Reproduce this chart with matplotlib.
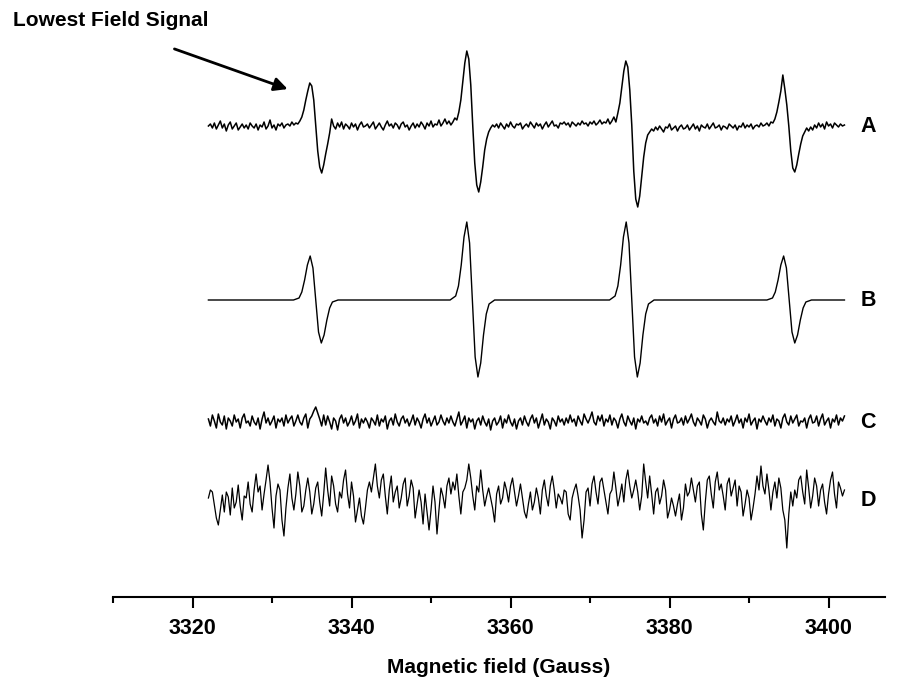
import numpy as np
import matplotlib
matplotlib.use('Agg')
import matplotlib.pyplot as plt

plt.rcParams['font.family'] = ['Liberation Sans', 'DejaVu Sans']
plt.rcParams['font.weight'] = 'bold'

# magnetic field sampling (Gauss): 3322 .. 3402 in 0.25 G steps
field_start = 3322.0
field_step = 0.25

# trace A: experimental spectrum (signal height, arbitrary units)
spec_A = [
    1, 3, -1, 4, -2, 2, 6, -1, 3, -4, 2, 5, -2, 1, 4, -3, 0, 3, -1, 2,
    -2, 4, 1, -1, 3, -3, 2, 0, 5, -2, 1, 7, -1, 2, -3, 3, 1, 4, -1, 2,
    3, 1, 5, 2, 4, 3, 6, 10, 17, 27, 36, 44, 41, 27, 2, -24, -40, -46, -38, -27,
    -17, -6, 8, 1, -2, 4, 0, 5, -2, 3, 1, -2, 4, 0, 3, -3, 2, 5, 0, 1,
    3, -1, 2, 5, -2, 1, 4, 0, -3, 2, 6, 1, 3, -1, 4, 2, -2, 3, 5, 0,
    2, -3, 1, 4, -1, 3, 0, 5, 2, -2, 4, 1, 6, 0, 3, 2, 7, 1, 4, 8,
    3, 6, 2, 5, 9, 7, 15, 27, 46, 64, 76, 68, 42, 1, -36, -58, -65, -55, -40, -23,
    -12, -5, -1, 2, 0, 3, -1, 4, 1, -2, 3, 0, 5, 1, -1, 3, 2, 4, -2, 1,
    3, 0, 5, 2, -1, 4, 1, 3, -2, 2, 5, 0, 3, 6, 1, 2, -1, 4, 3, 5,
    2, 4, 0, 5, 3, 1, 4, 2, 6, 3, 4, 1, 5, 3, 6, 2, 4, 7, 3, 5,
    4, 8, 3, 6, 10, 5, 14, 24, 40, 56, 66, 60, 37, 2, -44, -72, -80, -69, -50, -30,
    -16, -8, -5, -2, -4, 0, -3, 1, -2, -5, 0, -1, 3, -3, -1, 1, -4, 0, 2, -2,
    -1, 2, -3, 0, 3, -2, 1, -4, 2, 0, -1, 3, -2, 1, 4, -1, 0, 2, -3, 1,
    0, -2, 3, 1, -1, 2, -3, 1, 0, 4, -1, 2, 0, 3, -2, 1, 2, 0, 4, 1,
    2, 4, 1, 5, 4, 8, 15, 25, 36, 52, 38, 22, 1, -24, -41, -45, -38, -27, -17, -9,
    -5, -1, -4, 0, -3, 2, -1, 4, 0, 3, -2, 5, 1, 3, -1, 4, 2, 0, 3, 1,
    2,
]

# trace B: simulated spectrum (field, height)
field_B = [
    3322.0,
    3332.7, 3333.4, 3333.75, 3334.1, 3334.45, 3334.8, 3335.15, 3335.5,
    3335.85, 3336.2, 3336.55, 3336.9, 3337.25, 3337.6, 3338.3,
    3352.4, 3353.1, 3353.45, 3353.8, 3354.15, 3354.5, 3354.85, 3355.2,
    3355.55, 3355.9, 3356.25, 3356.6, 3356.95, 3357.3, 3358.0,
    3372.45, 3373.15, 3373.5, 3373.85, 3374.2, 3374.55, 3374.9, 3375.25,
    3375.6, 3375.95, 3376.3, 3376.65, 3377.0, 3377.35, 3378.05,
    3392.25, 3392.95, 3393.3, 3393.65, 3394.0, 3394.35, 3394.7, 3395.05,
    3395.4, 3395.75, 3396.1, 3396.45, 3396.8, 3397.15, 3397.85,
    3402.0,
]
spec_B = [
    0,
    0, 2, 8, 20, 35, 44, 32, 0, -32, -43, -35, -20, -8, -2, 0,
    0, 4, 14, 35, 63, 78, 57, 0, -57, -77, -63, -35, -14, -4, 0,
    0, 4, 14, 35, 63, 78, 57, 0, -57, -77, -63, -35, -14, -4, 0,
    0, 2, 8, 20, 35, 44, 32, 0, -32, -43, -35, -20, -8, -2, 0,
    0,
]

# trace C: residual A - B
spec_C = [
    3, -4, 7, 1, -6, 8, 0, -3, 6, -7, 4, 1, -4, 7, 0, 3, -6, 4, 8, -1,
    1, -4, 6, 0, -3, 4, -7, 3, 10, -1, 4, -3, 1, 6, -6, 3, 0, 4, -4, 7,
    -1, 3, 6, -4, 1, 7, 0, -3, 4, 8, -6, 3, 6, 11, 15, 9, 3, -4, 7, -3,
    6, 0, -7, 4, 1, -8, 3, 7, -1, 4, -4, 0, 6, -3, 1, 8, -6, 3, -1, 4,
    0, -6, 4, 1, -3, 7, -4, 3, 0, 6, -7, 1, 4, -3, 8, 0, -4, 3, 6, -1,
    3, -4, 1, 7, -3, 4, 0, -6, 3, 8, -1, 4, -4, 1, 6, -3, 0, 7, 1, -3,
    4, -1, 6, 0, -4, 3, 10, -3, 1, 6, -6, 4, 0, 3, -7, 1, 4, -3, 6, 0,
    -4, 3, -8, 1, 4, -3, 0, 6, -6, 3, -1, 7, 0, -4, 3, -7, 1, 4, -3, 6,
    0, -4, 3, 7, -1, 4, -6, 1, 8, -3, 3, 0, -7, 4, 1, -4, 6, 0, 3, -3,
    4, -1, 7, 0, 3, -4, 6, 1, -3, 8, 3, -1, 4, 10, 0, -3, 6, 1, 7, -4,
    3, 0, 7, -3, 4, 1, -6, 3, 8, 0, -4, 6, 1, -3, 4, -7, 3, 0, 6, -1,
    1, -3, 4, 7, -1, 3, -4, 6, 0, 8, -3, 1, 4, -6, 3, 7, -1, 0, 4, -3,
    6, -1, 3, 8, 0, -4, 4, 1, -3, 7, 3, -6, 1, 4, 0, -3, 10, 1, -1, 4,
    -3, 3, 0, 6, -4, 1, 7, -1, 3, -6, 4, 0, 8, -3, 1, 4, -7, 3, 0, 6,
    1, -3, 4, 0, 7, -4, 3, 1, -6, 4, 8, 0, -3, 6, -1, 3, 7, -4, 1, 0,
    4, -6, 3, 7, -1, 0, 6, -4, 3, 8, -3, 1, 4, -6, 3, 0, 7, -3, 4, 1,
    6,
]

# trace D: residual, expanded scale
spec_D = [
    2, 10, 8, -5, -18, -25, -10, 5, -12, 8, 3, -15, 12, -8, -2, 15, -6, -20, 4, 2,
    18, -4, -12, 10, 26, 8, 14, -10, 6, 20, 35, 18, -8, -28, 4, 16, 10, -20, -36, -8,
    12, 26, 2, -10, 6, 28, 14, -12, -6, 10, 22, 8, -14, -4, 12, 18, -2, -16, 6, 32,
    10, -6, 24, 14, -4, -12, 8, 2, 20, 30, 6, -8, 18, 4, -22, -10, 2, -16, -24, -8,
    10, 18, 8, 22, 36, 14, 2, 20, 26, 4, -14, 10, 24, -2, 8, 14, -8, 2, 16, 22,
    -6, 4, 20, 12, -18, -4, 10, -2, -24, 6, -12, -30, -10, 14, -2, -34, -10, 12, 4, -8,
    14, 22, 6, 18, 10, 26, 4, -14, 8, 12, 20, 36, 22, 4, -10, 14, 8, 30, 10, -6,
    4, 12, 2, -8, -22, 6, 14, -4, 2, 18, 10, -2, 14, 22, 8, -6, 4, 16, 2, -12,
    -18, -4, 8, -10, -2, 12, 2, -14, 10, 20, 4, -6, 14, 24, 10, -8, 6, 2, -4, 10,
    8, -14, -20, 2, 10, 16, 4, -10, -38, -20, 8, 12, -6, 16, 24, 8, -4, 18, 22, 10,
    -2, -14, 6, 10, 28, 12, -6, 4, 16, -2, 20, 30, 14, 2, 10, 20, 8, -10, 4, 36,
    18, 2, 24, 6, -14, 8, 12, -4, 4, 20, 10, -18, -10, 2, -6, -16, -4, 6, -20, -8,
    16, 4, 8, 22, 10, -2, 14, 18, -14, -30, -2, 20, 24, 6, -8, 18, 28, 10, 16, 4,
    -10, 16, 22, 4, 12, 20, -6, 14, 8, -16, -4, 10, 2, -20, -8, 6, 24, 10, 34, 14,
    6, 26, 10, -10, 8, 18, 2, 22, 12, -10, -20, -48, -14, 8, -6, 10, 2, 20, 24, 8,
    -4, 30, 12, -8, 4, 22, 14, -6, 10, 16, -2, -14, 6, 20, 28, 6, -8, 18, 12, 4,
    10,
]

trace_names = ['A', 'B', 'C', 'D']
offsets = [470, 297, 175, 97]   # vertical stacking of traces

field = field_start + field_step * np.arange(len(spec_A))

fig = plt.figure(figsize=(9.01, 6.79), dpi=100)
ax = fig.add_axes([113 / 901, 1 - 597 / 679, 772 / 901, 597 / 679])

ax.plot(field, np.array(spec_A) + offsets[0], color='black', lw=1.1)
ax.plot(field_B, np.array(spec_B) + offsets[1], color='black', lw=1.0)
ax.plot(field, np.array(spec_C) + offsets[2], color='black', lw=1.1)
ax.plot(field, np.array(spec_D) + offsets[3], color='black', lw=0.9)

for name, off in zip(trace_names, offsets):
    ax.text(3404.0, off, name, fontsize=15.5, fontweight='bold', ha='left', va='center')

ax.set_xlim(3310, 3407.1)
ax.set_ylim(0, 597)

for s in ['left', 'right', 'top']:
    ax.spines[s].set_visible(False)
ax.spines['bottom'].set_linewidth(1.5)
ax.set_yticks([])
ax.set_xticks([3320, 3340, 3360, 3380, 3400])
ax.set_xticks(np.arange(3310, 3401, 10), minor=True)
ax.tick_params(axis='x', which='major', length=8, width=1.5, pad=7, labelsize=15.5)
ax.tick_params(axis='x', which='minor', length=4, width=1.5)
ax.set_xlabel('Magnetic field (Gauss)', fontsize=15, fontweight='bold', labelpad=14)

fig.text(13 / 901, 1 - 20 / 679, 'Lowest Field Signal', fontsize=15, fontweight='bold',
         ha='left', va='center')
ax.annotate('', xy=(3332.3, 507), xytext=(3317.4, 549), annotation_clip=False,
            arrowprops=dict(arrowstyle='-|>', color='black', lw=2.0, mutation_scale=20))

fig.savefig('out.png', dpi=100)
